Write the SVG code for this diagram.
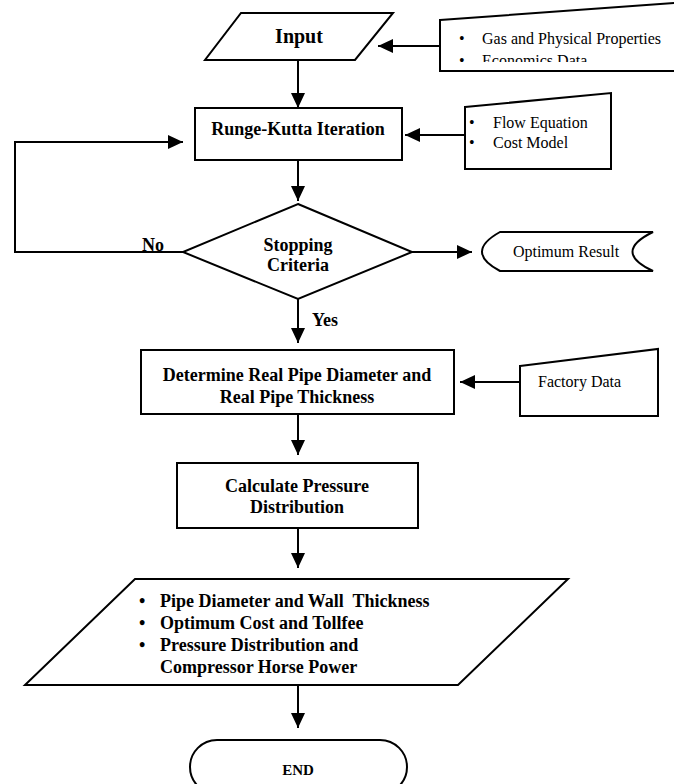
<svg xmlns="http://www.w3.org/2000/svg" width="674" height="784" viewBox="0 0 674 784">
<style>
.s{fill:#fff;stroke:#000;stroke-width:2}
.c{fill:none;stroke:#000;stroke-width:2}
.b{font-family:"Liberation Serif","Times New Roman",serif;font-weight:bold;font-size:18px;fill:#000}
.r{font-family:"Liberation Serif","Times New Roman",serif;font-size:16px;fill:#000}
.m{text-anchor:middle}
</style>
<defs>
<marker id="ah" markerUnits="userSpaceOnUse" markerWidth="16" markerHeight="14" refX="15" refY="7" orient="auto">
<path d="M0,0 L15,7 L0,14 Z" fill="#000"/>
</marker>
<clipPath id="gclip"><rect x="440" y="0" width="234" height="62"/></clipPath>
</defs>
<rect width="674" height="784" fill="#fff"/>
<g id="connectors">
<line class="c" x1="440" y1="46" x2="378" y2="46" marker-end="url(#ah)"/>
<line class="c" x1="298" y1="60" x2="298" y2="108" marker-end="url(#ah)"/>
<line class="c" x1="465" y1="135" x2="405" y2="135" marker-end="url(#ah)"/>
<line class="c" x1="298" y1="160" x2="298" y2="201" marker-end="url(#ah)"/>
<line class="c" x1="412" y1="252" x2="472" y2="252" marker-end="url(#ah)"/>
<polyline class="c" points="183,252 15,252 15,142 183,142" marker-end="url(#ah)"/>
<line class="c" x1="298" y1="299" x2="298" y2="343" marker-end="url(#ah)"/>
<line class="c" x1="520" y1="382" x2="460" y2="382" marker-end="url(#ah)"/>
<line class="c" x1="298" y1="414" x2="298" y2="455" marker-end="url(#ah)"/>
<line class="c" x1="298" y1="528" x2="298" y2="568" marker-end="url(#ah)"/>
<line class="c" x1="298" y1="685" x2="298" y2="728" marker-end="url(#ah)"/>
<text class="b" x="142" y="251">No</text>
<text class="b" x="312" y="326">Yes</text>
</g>
<g id="input">
<polygon class="s" points="241,13 393,13 355,60 205,60"/>
<text class="b m" x="299" y="43" style="font-size:20px">Input</text>
</g>
<g id="gas-data">
<polygon class="s" points="440,20 675,3 690,3 690,71 440,71"/>
<g clip-path="url(#gclip)">
<text class="r" x="459" y="44">•</text>
<text class="r" x="482" y="44">Gas and Physical Properties</text>
<text class="r" x="459" y="66">•</text>
<text class="r" x="482" y="66">Economics Data</text>
</g>
</g>
<g id="runge-kutta">
<rect class="s" x="195" y="108" width="207" height="52"/>
<text class="b m" x="298" y="135">Runge-Kutta Iteration</text>
</g>
<g id="flow-cost">
<polygon class="s" points="465,107 611,93 611,169 465,169"/>
<text class="r" x="469" y="128">•</text>
<text class="r" x="493" y="128">Flow Equation</text>
<text class="r" x="469" y="148">•</text>
<text class="r" x="493" y="148">Cost Model</text>
</g>
<g id="stopping">
<polygon class="s" points="298,204 412,252 298,299 183,252"/>
<text class="b m" x="298" y="251">Stopping</text>
<text class="b m" x="298" y="271">Criteria</text>
</g>
<g id="optimum">
<path class="s" d="M500,232 L653,232 Q612,252 653,271 L500,271 Q464,252 500,232 Z"/>
<text class="r m" x="566" y="257">Optimum Result</text>
</g>
<g id="determine">
<rect class="s" x="141" y="350" width="313" height="64"/>
<text class="b m" x="297" y="381">Determine Real Pipe Diameter and</text>
<text class="b m" x="297" y="403">Real Pipe Thickness</text>
</g>
<g id="factory">
<polygon class="s" points="520,366 658,349 658,416 520,416"/>
<text class="r" x="538" y="387">Factory Data</text>
</g>
<g id="calculate">
<rect class="s" x="177" y="463" width="241" height="65"/>
<text class="b m" x="297" y="492">Calculate Pressure</text>
<text class="b m" x="297" y="513">Distribution</text>
</g>
<g id="output">
<polygon class="s" points="135,579 568,579 458,685 25,685"/>
<text class="b" x="139" y="607">•</text>
<text class="b" x="160" y="607" xml:space="preserve">Pipe Diameter and Wall  Thickness</text>
<text class="b" x="139" y="629">•</text>
<text class="b" x="160" y="629">Optimum Cost and Tollfee</text>
<text class="b" x="139" y="651">•</text>
<text class="b" x="160" y="651">Pressure Distribution and</text>
<text class="b" x="160" y="673">Compressor Horse Power</text>
</g>
<g id="end">
<rect class="s" x="190" y="740" width="217" height="54" rx="27" ry="27"/>
<text class="b m" x="298" y="775" style="font-size:15px">END</text>
</g>
</svg>
